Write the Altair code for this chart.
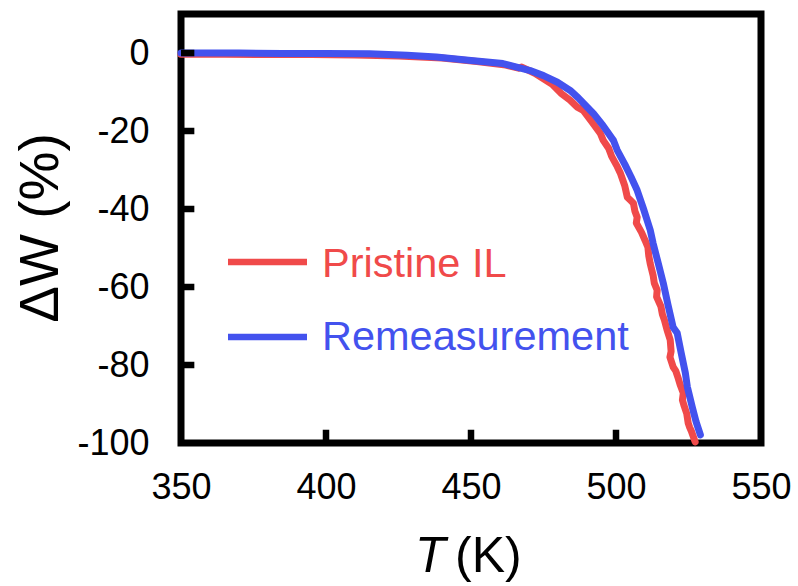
import altair as alt
import pandas as pd

series_names = ["Pristine IL", "Remeasurement"]
series_colors = ["#F04A4A", "#4352EE"]

pristine_T = [350, 365, 380, 395, 410, 425, 440, 452, 462, 466.4, 467.5, 472, 478, 481, 484.2,
              486.5, 488.7, 491.5, 494.6, 495.6, 497.5, 498.5, 500.2, 501.5, 502.3, 503.0, 503.9,
              504.9, 506.0, 506.5, 507.3, 507.0, 508.8, 510, 511, 511.3, 511.8, 512.8, 513.2,
              514.2, 514.0, 515.5, 516.0, 516.7, 517.6, 518.7, 519.0, 518.6, 519.7, 520.6, 521.5,
              522.1, 523.2, 522.9, 523.5, 524.4, 524.9, 525.4, 526.0, 527.3]
pristine_W = [-0.3, -0.3, -0.4, -0.4, -0.5, -0.8, -1.3, -2.2, -3.1, -3.9, -3.6, -5.2, -8.0, -10.3,
              -12.1, -13.8, -14.7, -17.5, -20.6, -22.4, -24.5, -26.5, -28.8, -30.8, -32.5, -34.0,
              -37.0, -37.7, -38.5, -40.5, -42.1, -43.6, -46.0, -48.0, -49.8, -52.0, -54.0, -57.0,
              -59.0, -60.8, -62.5, -65.0, -67.0, -68.5, -71.0, -73.6, -76.5, -78.0, -80.5, -81.5,
              -83.5, -85.0, -87.2, -89.0, -90.5, -92.5, -94.9, -96.0, -97.0, -99.7]

remeas_T = [350, 360, 370, 385, 400, 415, 428, 438, 450, 461, 470.4, 475, 479.8, 484.2, 487,
            490.1, 492.2, 495.5, 499.1, 500.4, 503, 505.2, 507.3, 509.5, 511.8, 512.8, 514.6,
            516.3, 517.9, 519.7, 521.1, 522.5, 523.9, 524.6, 526.3, 527.6, 529.1]
remeas_W = [0, 0, 0, -0.1, -0.1, -0.2, -0.6, -1.0, -1.9, -2.7, -4.5, -5.8, -7.5, -9.6, -11.5,
            -13.9, -15.5, -18.6, -22.4, -24.9, -28.5, -31.8, -35.2, -40.0, -45.4, -48.8, -54.0,
            -59.0, -64.5, -70.3, -71.8, -77.0, -82.0, -85.6, -90.8, -94.5, -97.9]

x_ticks = [350, 400, 450, 500, 550]
y_ticks = [0, -20, -40, -60, -80, -100]

rows = []
for name, Ts, Ws in [(series_names[0], pristine_T, pristine_W),
                     (series_names[1], remeas_T, remeas_W)]:
    for i, (t, w) in enumerate(zip(Ts, Ws)):
        rows.append({"series": name, "T": t, "W": w, "idx": i})
df = pd.DataFrame(rows)

PW, PH = 580, 429
PL, PT = 181, 14
FONT = "Liberation Sans"
X0, Y0 = x_ticks[0], y_ticks[-1]
TICK_X = 4.6   # inward tick length in x data units (about 13 px)
TICK_Y = 3.4   # inward tick length in y data units (about 13 px)

xscale = alt.Scale(domain=[350, 550], nice=False, zero=False)
yscale = alt.Scale(domain=[-100, 10], nice=False, zero=False)

lines = alt.Chart(df).mark_line(strokeWidth=7, strokeJoin="round", strokeCap="round").encode(
    x=alt.X("T:Q", scale=xscale,
            axis=alt.Axis(values=x_ticks, ticks=False, domain=False, grid=False,
                          labelFontSize=36, labelFont=FONT, labelColor="black",
                          labelPadding=27, labelFlush=False, title=None,
                          labelExpr="'' + datum.value")),
    y=alt.Y("W:Q", scale=yscale,
            axis=alt.Axis(values=y_ticks, ticks=False, domain=False, grid=False,
                          labelFontSize=36, labelFont=FONT, labelColor="black",
                          labelPadding=32, labelFlush=False, title=None,
                          labelExpr="'' + datum.value")),
    color=alt.Color("series:N", scale=alt.Scale(domain=series_names, range=series_colors),
                    legend=None),
    order="idx:Q",
)

xt_df = pd.DataFrame({"T": x_ticks[1:-1]})
xt_df["W"] = Y0
xt_df["W2"] = Y0 + TICK_Y
xt = alt.Chart(xt_df).mark_rule(color="black", strokeWidth=6.5).encode(
    x=alt.X("T:Q", scale=xscale), y=alt.Y("W:Q", scale=yscale), y2="W2:Q")

yt_df = pd.DataFrame({"W": y_ticks[:-1]})
yt_df["T"] = X0
yt_df["T2"] = X0 + TICK_X
yt = alt.Chart(yt_df).mark_rule(color="black", strokeWidth=6.5).encode(
    y=alt.Y("W:Q", scale=yscale), x=alt.X("T:Q", scale=xscale), x2="T2:Q")

legend_layers = []
leg_rule_y = [262 - PT, 337 - PT]
leg_text_y = [277 - PT, 350 - PT]
for i, name in enumerate(series_names):
    d = pd.DataFrame({"series": [name]})
    legend_layers.append(alt.Chart(d).mark_rule(color=series_colors[i], strokeWidth=6.5).encode(
        x=alt.value(228 - PL), x2=alt.value(307 - PL), y=alt.value(leg_rule_y[i])))
    legend_layers.append(alt.Chart(d).mark_text(
        color=series_colors[i], font=FONT, fontSize=41.5, align="left", baseline="alphabetic").encode(
        text="series:N", x=alt.value(322 - PL), y=alt.value(leg_text_y[i])))

tdf = pd.DataFrame({"a": ["T"], "b": ["(K)"], "c": ["ΔW (%)"]})
xtitle_T = alt.Chart(tdf).mark_text(font=FONT, fontSize=50, fontStyle="italic", align="left",
                                    baseline="alphabetic", color="black").encode(
    text="a:N", x=alt.value(415 - PL), y=alt.value(572 - PT))
xtitle_K = alt.Chart(tdf).mark_text(font=FONT, fontSize=50, align="left",
                                    baseline="alphabetic", color="black").encode(
    text="b:N", x=alt.value(455 - PL), y=alt.value(572 - PT))
ytitle = alt.Chart(tdf).mark_text(font=FONT, fontSize=55, align="center", angle=270,
                                  baseline="alphabetic", color="black").encode(
    text="c:N", x=alt.value(58 - PL), y=alt.value(228 - PT))

chart = alt.layer(lines, xt, yt, *legend_layers, xtitle_T, xtitle_K, ytitle).properties(
    width=PW, height=PH,
    padding={"left": PL, "top": PT, "right": 798 - PL - PW, "bottom": 586 - PT - PH},
    autosize=alt.AutoSizeParams(type="none"),
    background="white",
).configure_view(stroke="black", strokeWidth=7)

chart.save("out.html", embed_options={"renderer": "svg", "actions": False})
